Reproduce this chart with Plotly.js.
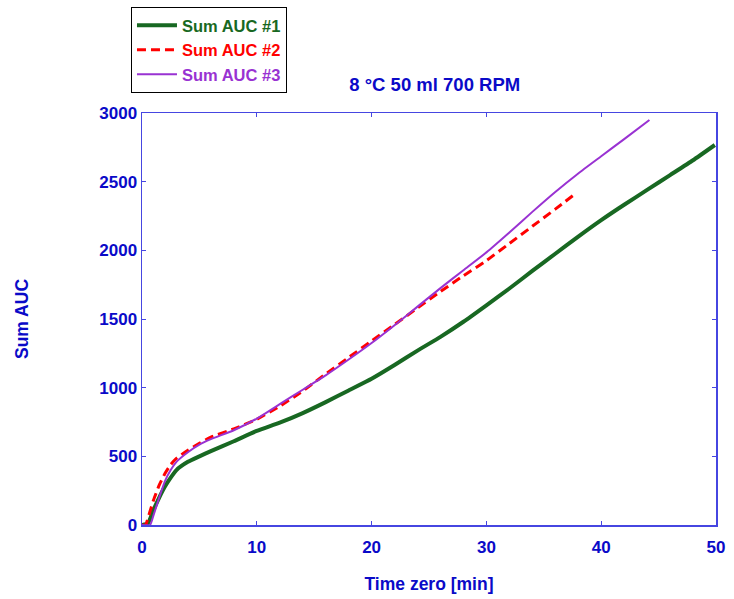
<!DOCTYPE html>
<html>
<head>
<meta charset="utf-8">
<script src="https://cdn.plot.ly/plotly-3.0.1.min.js"></script>
<style>html,body{margin:0;padding:0;background:#fff;}#chart{width:734px;height:599px;}</style>
</head>
<body>
<div id="chart"></div>
<script>
// Series names and title texts
const seriesNames = ['Sum AUC #1', 'Sum AUC #2', 'Sum AUC #3'];
const chartTitle = '8 °C 50 ml 700 RPM';
const xTitle = 'Time zero [min]';
const yTitle = 'Sum AUC';

// Sum AUC #1 (green)
const t1 = [0, 0.5, 1, 1.5, 2, 2.5, 3, 4, 5, 6, 8, 10, 12, 14, 16, 18, 20, 22, 24, 26, 28, 30, 32, 34, 36, 38, 40, 42, 44, 46, 48, 49.9];
const v1 = [0, 10, 110, 200, 280, 345, 400, 460, 500, 538, 610, 685, 745, 815, 895, 980, 1065, 1165, 1270, 1370, 1480, 1600, 1722, 1850, 1975, 2100, 2220, 2332, 2440, 2548, 2656, 2767];

// Sum AUC #2 (red dashed)
const t2 = [0, 0.3, 0.7, 1, 1.5, 2, 2.5, 3, 4, 5, 6, 8, 10, 12, 14, 16, 18, 20, 22, 24, 26, 28, 30, 32, 34, 36, 37.8];
const v2 = [0, 0, 100, 180, 290, 375, 440, 485, 545, 595, 640, 700, 770, 865, 975, 1100, 1220, 1340, 1460, 1580, 1700, 1815, 1925, 2050, 2175, 2300, 2415];

// Sum AUC #3 (purple)
const t3 = [0, 0.7, 1, 1.5, 2, 2.5, 3, 4, 5, 6, 8, 10, 12, 14, 16, 18, 20, 22, 24, 26, 28, 30, 32, 34, 36, 38, 40, 42, 44.2];
const v3 = [0, 0, 70, 200, 320, 400, 460, 530, 585, 625, 690, 775, 880, 985, 1090, 1205, 1325, 1455, 1590, 1725, 1855, 1985, 2130, 2280, 2425, 2560, 2685, 2810, 2949];

const xTicks = [0, 10, 20, 30, 40, 50];
const yTicks = [0, 500, 1000, 1500, 2000, 2500, 3000];

const GREEN = 'rgb(24,104,34)';
const RED = '#ff0000';
const PURPLE = 'rgb(153,50,210)';
const TXT = 'rgb(10,10,200)';
const AX = 'rgb(70,70,225)';
const FONT = 'Liberation Sans, Arial, sans-serif';

function nm(name, color) { return '<span style="color:' + color + '">' + name + '</span>'; }

const traces = [
  {x: t1, y: v1, type: 'scatter', mode: 'lines', name: nm(seriesNames[0], GREEN),
   line: {color: GREEN, width: 4, shape: 'spline', smoothing: 0.5}},
  {x: t2, y: v2, type: 'scatter', mode: 'lines', name: nm(seriesNames[1], RED),
   line: {color: RED, width: 3, dash: '9px,5px', shape: 'spline', smoothing: 0.5}},
  {x: t3, y: v3, type: 'scatter', mode: 'lines', name: nm(seriesNames[2], PURPLE),
   line: {color: PURPLE, width: 2, shape: 'spline', smoothing: 0.5}}
];

const axisCommon = {
  showgrid: false, zeroline: false, showline: true, linecolor: AX, linewidth: 1.5,
  mirror: 'allticks', ticks: 'inside', ticklen: 4, tickcolor: AX, tickwidth: 1,
  tickfont: {family: FONT, size: 17, color: TXT, weight: 'bold'},
  automargin: false
};

const layout = {
  width: 734, height: 599,
  paper_bgcolor: '#fff', plot_bgcolor: '#fff',
  margin: {l: 142, r: 18, t: 113, b: 74},
  font: {family: FONT, color: TXT},
  title: {text: chartTitle, font: {family: FONT, size: 18.5, color: TXT, weight: 'bold'},
          xref: 'paper', x: 0.51, xanchor: 'center', yref: 'container', y: 1 - 85/599, yanchor: 'middle'},
  xaxis: Object.assign({}, axisCommon, {
    range: [0, 50], tickvals: xTicks, ticktext: xTicks.map(String), ticklabelstandoff: 6,
    title: {text: xTitle, font: {family: FONT, size: 17.5, color: TXT, weight: 'bold'}, standoff: 22}
  }),
  yaxis: Object.assign({}, axisCommon, {
    range: [0, 3000], tickvals: yTicks, ticktext: yTicks.map(String), ticklabelstandoff: 0,
    title: {text: yTitle, font: {family: FONT, size: 17.5, color: TXT, weight: 'bold'}, standoff: 66}
  }),
  showlegend: true,
  legend: {xref: 'paper', x: -0.0192, xanchor: 'left', yref: 'container', y: 1 - 7 / 599, yanchor: 'top',
           bgcolor: '#fff', bordercolor: '#000', borderwidth: 1, itemwidth: 40,
           font: {family: FONT, size: 16.5, color: TXT, weight: 'bold'}}
};

Plotly.newPlot('chart', traces, layout, {displayModeBar: false, staticPlot: true});
</script>
</body>
</html>
